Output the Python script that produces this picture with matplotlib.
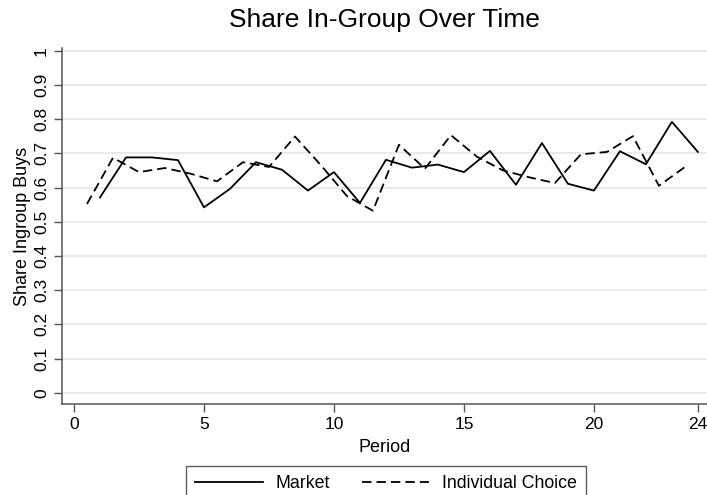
import matplotlib
matplotlib.use("Agg")
import matplotlib.pyplot as plt
from matplotlib.lines import Line2D

plt.rcParams['font.family'] = ['Liberation Sans', 'DejaVu Sans']
plt.rcParams['lines.scale_dashes'] = False

# Data
market_period = list(range(1, 25))
market_share = [0.571, 0.688, 0.688, 0.680, 0.542, 0.596, 0.674, 0.652,
                0.591, 0.645, 0.555, 0.681, 0.658, 0.667, 0.645, 0.707,
                0.608, 0.730, 0.611, 0.591, 0.706, 0.668, 0.792, 0.704]
indiv_period = [p - 0.5 for p in range(1, 25)]
indiv_share = [0.552, 0.687, 0.645, 0.657, 0.640, 0.618, 0.674, 0.660,
               0.749, 0.665, 0.575, 0.532, 0.725, 0.655, 0.753, 0.690,
               0.650, 0.630, 0.613, 0.697, 0.704, 0.750, 0.605, 0.660]
xticks = [0, 5, 10, 15, 20, 24]
yticks = [0, 0.1, 0.2, 0.3, 0.4, 0.5, 0.6, 0.7, 0.8, 0.9, 1]
ytick_labels = ['0', '0.1', '0.2', '0.3', '0.4', '0.5', '0.6', '0.7', '0.8', '0.9', '1']

W, H = 707, 495
fig = plt.figure(figsize=(W / 100, H / 100), dpi=100)
left, right, bottom, top = 62.3, 707, 404, 48.3
ax = fig.add_axes([left / W, 1 - bottom / H, (right - left) / W, (bottom - top) / H])

LW = 1.3
DASH = (6.8, 3.6)
ax.plot(market_period, market_share, color='black', lw=LW, label='Market')
ax.plot(indiv_period, indiv_share, color='black', lw=LW, dashes=DASH,
        label='Individual Choice')

ax.set_xlim(-0.45, 24.35)
ax.set_ylim(-0.033, 1.007)
ax.set_xticks(xticks)
ax.set_xticklabels([str(t) for t in xticks], fontsize=12.5)
ax.set_yticks(yticks)
ax.set_yticklabels(ytick_labels, fontsize=12.5, rotation=90, va='center')

ax.grid(axis='y', color='#e6e6e6', lw=1.2)
ax.set_axisbelow(True)
for s in ['top', 'right']:
    ax.spines[s].set_visible(False)
for s in ['left', 'bottom']:
    ax.spines[s].set_color('#555555')
    ax.spines[s].set_linewidth(1.1)
ax.tick_params(axis='both', length=5.5, width=1.0, color='#555555', pad=4)

ax.set_xlabel('Period', fontsize=13, labelpad=5)
ax.set_ylabel('Share Ingroup Buys', fontsize=13, labelpad=2)

fig.text((left + right) / 2 / W, 1 - 20 / H, 'Share In-Group Over Time',
         ha='center', va='center', fontsize=19)

handles = [Line2D([], [], color='black', lw=LW),
           Line2D([], [], color='black', lw=LW, dashes=DASH)]
leg = fig.legend(handles, ['Market', 'Individual Choice'], ncol=2,
                 loc='upper center', bbox_to_anchor=(386 / W, 1 - 466 / H),
                 fontsize=12.8, frameon=True, fancybox=False, edgecolor='#333333',
                 handlelength=3.8, handletextpad=0.7, columnspacing=1.8,
                 borderpad=0.5, borderaxespad=0)
leg.get_frame().set_linewidth(1.0)

fig.savefig('out.png', dpi=100)
